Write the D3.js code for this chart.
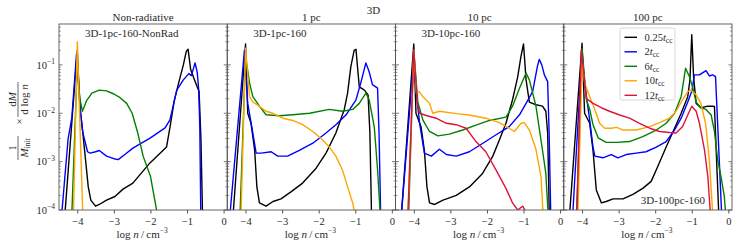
<!DOCTYPE html>
<html>
<head>
<meta charset="utf-8">
<script src="https://cdn.jsdelivr.net/npm/d3@7"></script>
<style>
body { margin: 0; background: #fff; }
text { font-family: "Liberation Serif", "DejaVu Serif", serif; fill: #2a2a2a; }
</style>
</head>
<body>
<div id="chart"></div>
<script>
// ---- data: [log n, dM/dlogn / M_init] ----
// Non-radiative
const nr_t025 = [[-4.36,5e-5],[-4.0,0.2],[-3.95,0.03],[-3.92,0.012],[-3.85,4e-3],[-3.78,1.2e-3],[-3.7,3e-4],[-3.63,1.6e-4],[-3.5,1.2e-4],[-3.4,1.3e-4],[-3.2,1.6e-4],[-2.97,1.9e-4],[-2.75,2.7e-4],[-2.48,3.6e-4],[-2.02,9.3e-4],[-1.56,2e-3],[-1.45,6e-3],[-1.35,0.018],[-1.22,0.045],[-1.1,0.1],[-1.02,0.19],[-0.97,0.21],[-0.9,0.08],[-0.8,0.05],[-0.72,0.035],[-0.67,0.028],[-0.62,3e-3],[-0.57,5e-5]];
const nr_t2 = [[-4.45,5e-5],[-4.25,3e-3],[-4.15,8e-3],[-4.02,0.17],[-3.97,0.05],[-3.92,0.012],[-3.85,4e-3],[-3.72,1.6e-3],[-3.65,1.5e-3],[-3.5,1.6e-3],[-3.4,1.7e-3],[-3.2,1.3e-3],[-3.0,1.15e-3],[-2.88,1.1e-3],[-2.7,1.4e-3],[-2.48,1.9e-3],[-2.0,3.1e-3],[-1.6,5e-3],[-1.47,7.2e-3],[-1.4,0.012],[-1.28,0.03],[-1.1,0.049],[-0.95,0.066],[-0.88,0.06],[-0.78,0.11],[-0.72,0.07],[-0.68,0.03],[-0.65,5e-3],[-0.62,5e-5]];
const nr_t6 = [[-4.16,5e-5],[-4.0,0.1],[-3.93,0.02],[-3.86,0.011],[-3.75,0.018],[-3.6,0.026],[-3.4,0.03],[-3.2,0.029],[-3.0,0.025],[-2.83,0.021],[-2.65,0.016],[-2.5,0.01],[-2.35,4e-3],[-2.2,1.3e-3],[-2.0,5e-4],[-1.76,5e-5]];
const nr_t10 = [[-4.11,5e-5],[-4.0,0.3],[-3.84,5e-5]];

// 1 pc
const p1_t025 = [[-4.36,5e-5],[-4.0,0.27],[-3.94,0.01],[-3.85,6.2e-3],[-3.75,1.7e-3],[-3.69,3e-4],[-3.62,1.4e-4],[-3.44,1.2e-4],[-3.25,1.5e-4],[-3.03,1.7e-4],[-2.75,2.4e-4],[-2.44,3.6e-4],[-2.07,7.3e-4],[-1.8,1.5e-3],[-1.53,3.9e-3],[-1.3,0.012],[-1.21,0.026],[-1.12,0.093],[-1.03,0.2],[-0.98,0.21],[-0.94,0.093],[-0.89,0.035],[-0.75,0.03],[-0.65,0.024],[-0.6,3.9e-3],[-0.55,5e-5]];
const p1_t2 = [[-4.45,5e-5],[-4.03,0.2],[-3.94,0.016],[-3.8,3.9e-3],[-3.71,1.5e-3],[-3.57,1.5e-3],[-3.3,1.6e-3],[-3.12,1.3e-3],[-2.85,1.3e-3],[-2.53,1.7e-3],[-2.16,2.4e-3],[-1.8,3.9e-3],[-1.53,5.8e-3],[-1.25,9.3e-3],[-0.98,0.019],[-0.85,0.042],[-0.71,0.11],[-0.62,0.072],[-0.53,0.039],[-0.39,0.033],[-0.35,3.9e-3],[-0.3,5e-5]];
const p1_t6 = [[-4.16,5e-5],[-4.0,0.15],[-3.89,0.042],[-3.8,0.022],[-3.62,0.014],[-3.44,9.3e-3],[-3.07,8.9e-3],[-2.71,9.3e-3],[-2.25,0.01],[-1.71,0.012],[-1.35,0.011],[-1.07,0.012],[-0.89,0.016],[-0.71,0.026],[-0.62,0.019],[-0.48,5.2e-3],[-0.39,6.8e-4],[-0.3,5e-5]];
const p1_t10 = [[-4.13,5e-5],[-4.0,0.22],[-3.89,0.022],[-3.8,0.017],[-3.62,0.014],[-3.44,0.011],[-3.25,0.01],[-2.98,7.9e-3],[-2.71,7.1e-3],[-2.44,5.8e-3],[-2.16,4.2e-3],[-1.89,2.8e-3],[-1.71,2.0e-3],[-1.53,1.3e-3],[-1.35,6.7e-4],[-1.21,3e-4],[-1.07,1.4e-4],[-1.0,7e-5]];

// 10 pc
const p10_t025 = [[-4.36,5e-5],[-4.0,0.27],[-3.94,0.01],[-3.8,5.2e-3],[-3.71,1.7e-3],[-3.64,3e-4],[-3.57,1.4e-4],[-3.43,1.3e-4],[-3.2,1.6e-4],[-2.84,2.0e-4],[-2.48,3.0e-4],[-2.12,5.7e-4],[-1.84,1.3e-3],[-1.66,2.8e-3],[-1.48,6.2e-3],[-1.3,0.019],[-1.16,0.056],[-1.07,0.15],[-1.0,0.27],[-0.93,0.049],[-0.84,0.017],[-0.66,0.015],[-0.48,0.014],[-0.39,0.011],[-0.34,3.9e-3],[-0.29,5e-5]];
const p10_t2 = [[-4.36,5e-5],[-4.0,0.14],[-3.93,0.026],[-3.84,6.2e-3],[-3.71,1.5e-3],[-3.52,1.3e-3],[-3.3,1.8e-3],[-3.11,1.4e-3],[-2.84,1.3e-3],[-2.48,1.6e-3],[-2.11,2.4e-3],[-1.75,3.6e-3],[-1.39,5.3e-3],[-1.11,9.3e-3],[-0.93,0.016],[-0.75,0.028],[-0.62,0.093],[-0.57,0.13],[-0.5,0.1],[-0.43,0.062],[-0.34,0.045],[-0.3,3.9e-3],[-0.25,5e-5]];
const p10_t6 = [[-4.15,5e-5],[-4.0,0.2],[-3.89,0.017],[-3.75,7.2e-3],[-3.57,4.2e-3],[-3.34,3.4e-3],[-3.03,3.7e-3],[-2.66,4.5e-3],[-2.3,5.7e-3],[-1.93,7.1e-3],[-1.48,8.3e-3],[-1.3,0.014],[-1.11,0.033],[-0.93,0.068],[-0.84,0.049],[-0.66,0.014],[-0.48,1.7e-3],[-0.39,5.7e-4],[-0.31,5e-5]];
const p10_t10 = [[-4.17,5e-5],[-4.0,0.2],[-3.93,0.026],[-3.85,0.028],[-3.75,0.022],[-3.57,0.016],[-3.48,0.01],[-3.3,0.011],[-2.84,0.0098],[-2.48,9.2e-3],[-2.03,7.9e-3],[-1.66,6.4e-3],[-1.39,4.9e-3],[-1.25,4.2e-3],[-1.07,6.2e-3],[-0.98,6.4e-3],[-0.84,4.5e-3],[-0.66,1.8e-3],[-0.52,4.8e-4],[-0.45,5e-5]];
const p10_t12 = [[-4.17,5e-5],[-4.0,0.2],[-3.9,0.015],[-3.84,0.01],[-3.66,9e-3],[-3.39,7.9e-3],[-3.11,6.2e-3],[-2.84,5.8e-3],[-2.57,4.9e-3],[-2.3,2.6e-3],[-2.03,1.6e-3],[-1.75,6.7e-4],[-1.48,2.8e-4],[-1.3,1.4e-4],[-1.16,1e-4],[-1.02,1.2e-4],[-0.93,9e-5],[-0.88,5e-5]];

// 100 pc
const p100_t025 = [[-4.36,5e-5],[-4.0,0.28],[-3.93,0.01],[-3.79,6.2e-3],[-3.7,1.7e-3],[-3.61,2.6e-4],[-3.47,1.4e-4],[-3.34,1.5e-4],[-3.15,1.7e-4],[-2.88,1.7e-4],[-2.61,2.1e-4],[-2.34,2.8e-4],[-2.11,3.9e-4],[-1.93,7.9e-4],[-1.7,2.0e-3],[-1.47,4.9e-3],[-1.29,0.01],[-1.11,0.022],[-1.05,0.049],[-1.0,0.42],[-0.95,0.056],[-0.88,0.016],[-0.75,0.013],[-0.56,0.014],[-0.43,0.014],[-0.38,0.0138],[-0.25,5e-5]];
const p100_t2 = [[-4.27,5e-5],[-4.0,0.18],[-3.93,0.042],[-3.79,7.2e-3],[-3.7,2.0e-3],[-3.65,1.3e-3],[-3.43,1.2e-3],[-3.2,1.4e-3],[-3.02,1.2e-3],[-2.79,1.4e-3],[-2.52,1.5e-3],[-2.25,1.6e-3],[-1.97,2.0e-3],[-1.7,2.6e-3],[-1.47,4.5e-3],[-1.29,7.9e-3],[-1.11,0.017],[-0.99,0.030],[-0.93,0.062],[-0.79,0.062],[-0.61,0.076],[-0.52,0.059],[-0.43,0.062],[-0.35,0.057],[-0.17,5e-5]];
const p100_t6 = [[-4.16,5e-5],[-4.0,0.22],[-3.88,0.019],[-3.79,0.012],[-3.7,5.8e-3],[-3.56,3.1e-3],[-3.34,2.5e-3],[-3.06,2.5e-3],[-2.7,2.6e-3],[-2.34,3.3e-3],[-1.97,4.5e-3],[-1.7,6.2e-3],[-1.47,0.01],[-1.29,0.022],[-1.17,0.085],[-1.06,0.056],[-0.97,0.033],[-0.88,0.017],[-0.75,0.013],[-0.61,0.012],[-0.47,9.2e-3],[-0.38,4.2e-3],[-0.29,1.07e-3],[-0.2,4.9e-4],[-0.11,1.9e-4],[-0.05,5e-5]];
const p100_t10 = [[-4.12,5e-5],[-4.0,0.12],[-3.93,0.042],[-3.79,0.022],[-3.65,0.012],[-3.52,6.2e-3],[-3.38,4.9e-3],[-3.2,4.9e-3],[-3.05,5.1e-3],[-2.88,4.5e-3],[-2.52,4.5e-3],[-2.15,5.3e-3],[-1.88,6.4e-3],[-1.61,7.9e-3],[-1.43,0.011],[-1.25,0.019],[-1.11,0.028],[-1.02,0.030],[-0.88,0.024],[-0.75,0.016],[-0.62,6e-3],[-0.52,1.1e-3],[-0.41,5e-5]];
const p100_t12 = [[-4.15,5e-5],[-4.02,0.2],[-3.88,0.02],[-3.7,0.016],[-3.47,0.013],[-3.25,0.011],[-2.97,9.2e-3],[-2.7,7.9e-3],[-2.43,6.2e-3],[-2.15,4.9e-3],[-1.88,4.2e-3],[-1.61,4.0e-3],[-1.43,3.9e-3],[-1.25,5.3e-3],[-1.11,9.2e-3],[-1.0,0.014],[-0.88,0.011],[-0.79,6.2e-3],[-0.65,1.7e-3],[-0.56,4.9e-4],[-0.47,5e-5]];

const panelTitles = ["Non-radiative", "1 pc", "10 pc", "100 pc"];
const runLabels = ["3D-1pc-160-NonRad", "3D-1pc-160", "3D-10pc-160", "3D-100pc-160"];
const seriesNames = ["0.25", "2", "6", "10", "12"];
const seriesColors = ["black", "blue", "green", "orange", "crimson"];
const xTicks = [-4, -3, -2, -1, 0];
const yTicks = [1e-4, 1e-3, 1e-2, 1e-1];
const yExp = ["\u22124", "\u22123", "\u22122", "\u22121"];

const panels = [
    [nr_t025, nr_t2, nr_t6, nr_t10],
    [p1_t025, p1_t2, p1_t6, p1_t10],
    [p10_t025, p10_t2, p10_t6, p10_t10, p10_t12],
    [p100_t025, p100_t2, p100_t6, p100_t10, p100_t12]
];

const width = 747, height = 248;
const plotLeft = 59, plotRight = 732, plotTop = 24, plotBottom = 210;
const pw = (plotRight - plotLeft) / 4;
const axisColor = "#555";

const svg = d3.select("#chart").append("svg")
    .attr("width", width)
    .attr("height", height);

const y = d3.scaleLog().domain([1e-4, 0.7]).range([plotBottom, plotTop]);

// suptitle
svg.append("text")
    .attr("x", width / 2).attr("y", 14)
    .attr("text-anchor", "middle")
    .attr("font-size", "11px")
    .text("3D");

// minor log ticks
const minor = [];
for (let e = -4; e <= -1; e++) {
    for (let k = 2; k <= 9; k++) {
        const v = k * Math.pow(10, e);
        if (v <= 0.7) minor.push(v);
    }
}

panels.forEach((series, i) => {
    const x0 = plotLeft + i * pw;
    const x = d3.scaleLinear().domain([-4.5, 0.1]).range([x0, x0 + pw]);
    const g = svg.append("g");

    const clipId = "clip" + i;
    svg.append("clipPath").attr("id", clipId)
        .append("rect")
        .attr("x", x0).attr("y", plotTop)
        .attr("width", pw).attr("height", plotBottom - plotTop);

    const line = d3.line()
        .x(d => x(d[0]))
        .y(d => y(d[1]));

    series.forEach((s, j) => {
        g.append("path")
            .datum(s)
            .attr("clip-path", `url(#${clipId})`)
            .attr("fill", "none")
            .attr("stroke", seriesColors[j])
            .attr("stroke-width", 1.4)
            .attr("stroke-linejoin", "round")
            .attr("d", line);
    });

    // y ticks both sides, pointing in
    [x0, x0 + pw].forEach((ax, side) => {
        const dir = side === 0 ? 1 : -1;
        g.selectAll(null).data(yTicks).enter().append("line")
            .attr("x1", ax).attr("x2", ax + dir * 3.5)
            .attr("y1", d => y(d)).attr("y2", d => y(d))
            .attr("stroke", axisColor).attr("stroke-width", 0.8);
        g.selectAll(null).data(minor).enter().append("line")
            .attr("x1", ax).attr("x2", ax + dir * 2)
            .attr("y1", d => y(d)).attr("y2", d => y(d))
            .attr("stroke", axisColor).attr("stroke-width", 0.6);
    });

    // x axis
    const xAxis = d3.axisBottom(x)
        .tickValues(xTicks)
        .tickSize(3.5)
        .tickSizeOuter(0)
        .tickPadding(4)
        .tickFormat(d3.format("d"));
    const ax = g.append("g")
        .attr("transform", `translate(0,${plotBottom})`)
        .call(xAxis);
    ax.select(".domain").remove();
    ax.selectAll("line").attr("stroke", axisColor);
    ax.selectAll("text")
        .attr("font-size", "10.5px")
        .attr("fill", "#2a2a2a")
        .style("font-family", '"Liberation Serif", serif');

    // frame
    g.append("rect")
        .attr("x", x0).attr("y", plotTop)
        .attr("width", pw).attr("height", plotBottom - plotTop)
        .attr("fill", "none")
        .attr("stroke", axisColor)
        .attr("stroke-width", 0.9);

    // panel title
    g.append("text")
        .attr("x", x0 + pw / 2).attr("y", 20.5)
        .attr("text-anchor", "middle")
        .attr("font-size", "11px")
        .text(panelTitles[i]);

    // run label
    const lab = g.append("text")
        .attr("font-size", "11px")
        .text(runLabels[i]);
    if (i === 3) lab.attr("x", x0 + 77).attr("y", 204);
    else lab.attr("x", x0 + 26).attr("y", 36.5);

    // x label
    const xl = g.append("text")
        .attr("x", x0 + pw / 2 - 1).attr("y", 237.5)
        .attr("text-anchor", "middle")
        .attr("font-size", "11px");
    xl.append("tspan").text("log ");
    xl.append("tspan").attr("font-style", "italic").text("n");
    xl.append("tspan").text("\u2009/\u2009cm");
    xl.append("tspan").attr("font-size", "7.5px").attr("dy", -4.5).text("\u22123");
});

// y tick labels on first panel
yTicks.forEach((v, k) => {
    const t = svg.append("text")
        .attr("x", 55).attr("y", y(v) + 3.8)
        .attr("text-anchor", "end")
        .attr("font-size", "10.5px");
    t.append("tspan").text("10");
    t.append("tspan").attr("font-size", "7.5px").attr("dy", -4.5).text(yExp[k]);
});

// y label (rotated fraction)
const yl = svg.append("g").attr("transform", "translate(20,125) rotate(-90)");
yl.append("text").attr("x", -23).attr("y", -4.5).attr("text-anchor", "middle")
    .attr("font-size", "11px").text("1");
yl.append("line").attr("x1", -35).attr("x2", -11).attr("y1", -2).attr("y2", -2)
    .attr("stroke", "#2a2a2a").attr("stroke-width", 0.7);
const den1 = yl.append("text").attr("x", -23).attr("y", 7.5).attr("text-anchor", "middle")
    .attr("font-size", "11px");
den1.append("tspan").attr("font-style", "italic").text("M");
den1.append("tspan").attr("font-size", "7.5px").attr("dy", 2).text("init");
yl.append("text").attr("x", 3.5).attr("y", 2.5).attr("text-anchor", "middle")
    .attr("font-size", "11px").text("\u00d7");
const num2 = yl.append("text").attr("x", 25.5).attr("y", -4.5).attr("text-anchor", "middle")
    .attr("font-size", "11px");
num2.append("tspan").text("d");
num2.append("tspan").attr("font-style", "italic").text("M");
yl.append("line").attr("x1", 8).attr("x2", 43).attr("y1", -2).attr("y2", -2)
    .attr("stroke", "#2a2a2a").attr("stroke-width", 0.7);
const den2 = yl.append("text").attr("x", 25.5).attr("y", 7.5).attr("text-anchor", "middle")
    .attr("font-size", "11px");
den2.append("tspan").text("d log ");
den2.append("tspan").attr("font-style", "italic").text("n");

// legend in last panel
const lg = svg.append("g").attr("transform", "translate(620,28)");
lg.append("rect")
    .attr("width", 55).attr("height", 72)
    .attr("rx", 2.5)
    .attr("fill", "white").attr("fill-opacity", 0.85)
    .attr("stroke", "#ccc").attr("stroke-width", 0.8);
seriesNames.forEach((nm, k) => {
    const cy = 9.3 + k * 14.5;
    lg.append("line")
        .attr("x1", 4.5).attr("x2", 17)
        .attr("y1", cy).attr("y2", cy)
        .attr("stroke", seriesColors[k]).attr("stroke-width", 1.4);
    const t = lg.append("text").attr("x", 24.5).attr("y", cy + 3.5)
        .attr("font-size", "10.5px");
    t.append("tspan").text(nm);
    t.append("tspan").attr("font-style", "italic").text("t");
    t.append("tspan").attr("font-size", "7.5px").attr("dy", 2).text("cc");
});
</script>
</body>
</html>
